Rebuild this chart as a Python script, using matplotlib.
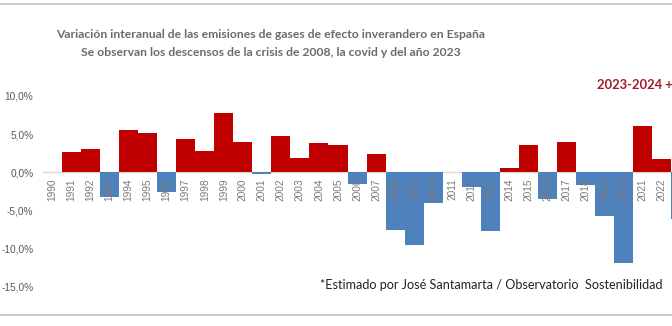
import matplotlib
matplotlib.use("Agg")
import matplotlib.pyplot as plt
from matplotlib.lines import Line2D

# interannual change in GHG emissions, Spain (%)
years = list(range(1990, 2024))
variacion = [0.0, 2.7, 3.1, -3.3, 5.5, 5.2, -2.6, 4.3, 2.8, 7.7,
             3.9, -0.3, 4.8, 1.8, 3.8, 3.5, -1.5, 2.4, -7.6, -9.6,
             -4.0, 0.0, -2.0, -7.8, 0.5, 3.5, -3.5, 4.0, -1.7, -5.8,
             -12.0, 6.0, 1.7, -6.1]
yticks = [10, 5, 0, -5, -10, -15]
ytick_labels = ["10,0%", "5,0%", "0,0%", "-5,0%", "-10,0%", "-15,0%"]

rojo = "#c00000"
azul = "#4f81bd"
gris = "#6b6b6b"

fig = plt.figure(figsize=(6.72, 3.26), dpi=100)
ax = fig.add_axes([43 / 672, 26 / 326, 1 - 43 / 672, 220 / 326])

x = list(range(len(years)))
colores = [rojo if v > 0 else azul for v in variacion]
ax.bar(x, variacion, width=1.0, color=colores, zorder=2)
ax.axhline(0, color="#d9d9d9", lw=1, zorder=1)

for i, y in enumerate(years):
    ax.annotate(str(y), (i, 0), xytext=(0, -4.3), textcoords="offset points",
                rotation=90, ha="center", va="top", fontsize=7.3,
                family="Liberation Sans", color="#7a7a7a", zorder=3)

ax.set_xlim(-0.5, 32.55)
ax.set_ylim(-16.8, 12.1)
ax.set_yticks(yticks)
ax.set_yticklabels(ytick_labels, family="Liberation Sans", fontsize=7.3, color="#595959")
ax.tick_params(axis="y", length=0, pad=7)
ax.set_xticks([])
for s in ax.spines.values():
    s.set_visible(False)

fig.text(271 / 672, 1 - 35 / 326, "Variación interanual de las emisiones de gases de efecto inverandero en España",
         ha="center", va="center", fontsize=8.7, fontweight="bold", color=gris, family="Lato")
fig.text(271 / 672, 1 - 53 / 326, "Se observan los descensos de la crisis de 2008, la covid y del año 2023",
         ha="center", va="center", fontsize=8.7, fontweight="bold", color=gris, family="Lato")
fig.text(597 / 672, 1 - 85 / 326, "2023-2024 +", ha="left", va="center",
         fontsize=9.4, fontweight="bold", color="#a01c2c", family="Lato")
fig.text(662 / 672, 1 - 285 / 326, "*Estimado por José Santamarta / Observatorio  Sostenibilidad",
         ha="right", va="center", fontsize=9.1, color="#222222", family="Lato")

# separator rules top and bottom
for yy in (4, 315):
    fig.add_artist(Line2D([0, 1], [1 - yy / 326] * 2, transform=fig.transFigure,
                          color="#c4c4c4", lw=1.2))

fig.savefig("out.png", dpi=100)
